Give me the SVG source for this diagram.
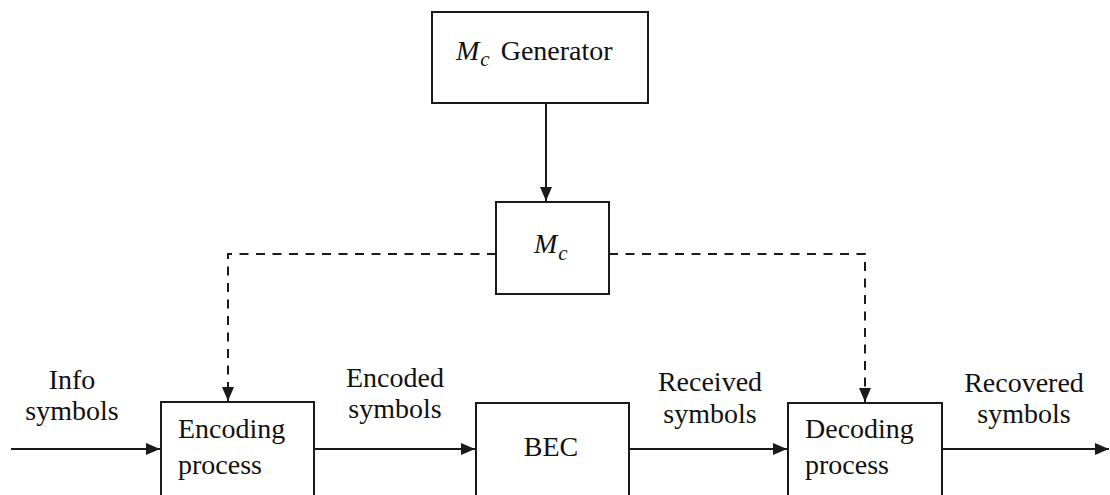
<svg xmlns="http://www.w3.org/2000/svg" width="1110" height="495" viewBox="0 0 1110 495">
  <style>
    .box { fill: #ffffff; stroke: #1a1a1a; stroke-width: 2; }
    .line { fill: none; stroke: #1a1a1a; stroke-width: 2; }
    .dash { fill: none; stroke: #1a1a1a; stroke-width: 2; stroke-dasharray: 9 7.5; }
    .t { font-family: "Liberation Serif", "Times New Roman", serif; font-size: 28px; fill: #111111; }
    .i { font-style: italic; }
    .s { font-size: 21px; font-style: italic; }
    .c { text-anchor: middle; }
  </style>
  <defs>
    <marker id="arrow" viewBox="0 0 14 12" refX="14" refY="6" markerWidth="14" markerHeight="12" markerUnits="userSpaceOnUse" orient="auto">
      <path d="M0,0 L14,6 L0,12 Z" fill="#1a1a1a"/>
    </marker>
  </defs>

  <rect width="1110" height="495" fill="#ffffff"/>

  <!-- connectors -->
  <g id="connectors">
    <line class="line" x1="546" y1="103" x2="546" y2="201" marker-end="url(#arrow)"/>
    <polyline class="dash" points="496,254 228,254 228,401" marker-end="url(#arrow)"/>
    <polyline class="dash" points="609,254 865,254 865,402" marker-end="url(#arrow)"/>
    <line class="line" x1="11" y1="449" x2="160" y2="449" marker-end="url(#arrow)"/>
    <line class="line" x1="314" y1="449" x2="475" y2="449" marker-end="url(#arrow)"/>
    <line class="line" x1="629" y1="449" x2="787" y2="449" marker-end="url(#arrow)"/>
    <line class="line" x1="942" y1="449" x2="1109" y2="449" marker-end="url(#arrow)"/>
  </g>

  <!-- edge labels -->
  <g id="labels">
    <text class="t c" x="72" y="389">Info</text>
    <text class="t c" x="72" y="420">symbols</text>
    <text class="t c" x="395" y="387">Encoded</text>
    <text class="t c" x="395" y="418">symbols</text>
    <text class="t c" x="710" y="391">Received</text>
    <text class="t c" x="710" y="423">symbols</text>
    <text class="t c" x="1024" y="392">Recovered</text>
    <text class="t c" x="1024" y="423">symbols</text>
  </g>

  <g id="generator">
    <rect class="box" x="432" y="12" width="216" height="91"/>
    <text class="t" x="456" y="60"><tspan class="i">M</tspan><tspan class="s" dy="6" dx="1">c</tspan><tspan dy="-6" dx="11">Generator</tspan></text>
  </g>

  <g id="mc">
    <rect class="box" x="496" y="202" width="113" height="92"/>
    <text class="t" x="534" y="253"><tspan class="i">M</tspan><tspan class="s" dy="7" dx="1">c</tspan></text>
  </g>

  <g id="encoder">
    <rect class="box" x="161" y="402" width="153" height="100"/>
    <text class="t" x="178" y="438">Encoding</text>
    <text class="t" x="178" y="474">process</text>
  </g>

  <g id="bec">
    <rect class="box" x="476" y="403" width="153" height="100"/>
    <text class="t c" x="551" y="456">BEC</text>
  </g>

  <g id="decoder">
    <rect class="box" x="788" y="403" width="154" height="100"/>
    <text class="t" x="805" y="438">Decoding</text>
    <text class="t" x="805" y="474">process</text>
  </g>
</svg>
